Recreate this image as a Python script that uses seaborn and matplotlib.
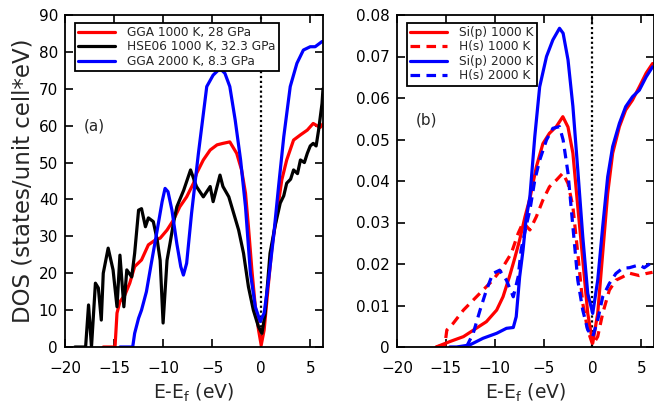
import matplotlib
matplotlib.use("Agg")
import matplotlib.pyplot as plt
import numpy as np
import pandas as pd
import seaborn as sns

# ---- panel (a): total DOS ----
gga1000_x = [-16.1, -14.9, -14.7, -14.4, -13.9, -13.4, -12.9, -12.2, -11.5, -10.8, -10.3,
             -9.6, -8.95, -8.3, -7.6, -6.9, -6.6, -5.9, -5.2, -4.5, -3.9, -3.2, -2.5,
             -2.0, -1.6, -1.3, -0.95, -0.6, -0.27, 0.0, 0.3, 0.65, 1.1, 1.6, 2.1, 2.6,
             3.3, 4.0, 4.7, 5.3, 6.0, 6.3]
gga1000_y = [0, 0, 9.2, 12.3, 14.1, 17.3, 21.8, 23.6, 27.7, 29.0, 29.5,
             31.7, 34.4, 38.0, 40.7, 44.4, 47.0, 50.7, 53.4, 54.8, 55.2, 55.6, 52.5,
             48.0, 41.7, 32.6, 20.9, 10.9, 4.6, 0.5, 4.6, 14.6, 27.2, 36.2, 45.3, 50.7,
             56.1, 57.5, 58.8, 60.6, 59.5, 60.5]

hse1000_x = [-19.0, -17.9, -17.6, -17.3, -16.9, -16.6, -16.3, -16.1, -15.6, -15.1, -14.7,
             -14.4, -14.0, -13.7, -13.2, -12.9, -12.5, -12.2, -11.8, -11.5, -11.0, -10.6,
             -10.3, -10.0, -9.6, -9.3, -8.95, -8.6, -7.9, -7.2, -6.6, -5.9, -5.2, -4.9,
             -4.2, -3.9, -3.3, -2.8, -2.3, -1.8, -1.3, -0.8, -0.28, 0.07, 0.4, 0.9, 1.4,
             1.94, 2.3, 2.6, 3.0, 3.3, 3.7, 4.0, 4.4, 4.7, 5.0, 5.3, 5.6, 5.85, 6.2, 6.3]
hse1000_y = [0, 0, 11.4, 0, 17.3, 16.0, 7.3, 20.0, 26.8, 20.9, 10.9,
             24.9, 10.9, 20.9, 19.0, 25.4, 37.1, 37.5, 32.6, 35.0, 34.0, 29.0,
             23.5, 6.5, 23.5, 28.0, 33.5, 38.0, 42.5, 48.0, 43.5, 40.7, 43.5, 39.4,
             46.6, 43.5, 40.7, 36.2, 31.7, 25.4, 16.3, 10.0, 5.5, 3.7, 9.0, 25.4, 32.6,
             39.0, 41.0, 44.4, 45.5, 48.0, 47.0, 50.7, 50.0, 52.5, 54.5, 55.2, 54.5, 58.8, 66.0, 70.0]

gga2000_x = [-14.4, -13.1, -12.9, -12.5, -12.2, -11.7, -11.2, -10.6, -10.1, -9.8, -9.5,
             -9.1, -8.6, -8.2, -7.93, -7.6, -7.1, -6.4, -5.55, -4.9, -4.2, -3.7, -3.2,
             -2.65, -2.1, -1.6, -1.1, -0.6, -0.1, 0.3, 0.75, 1.26, 1.77, 2.3, 2.96, 3.64,
             4.3, 5.0, 5.5, 6.2]
gga2000_y = [0, 0, 3.7, 7.8, 10.0, 15.0, 22.7, 31.7, 39.4, 43.0, 42.1,
             37.1, 28.0, 21.8, 19.5, 22.7, 36.2, 52.5, 70.6, 73.7, 75.5, 74.2, 70.6,
             61.5, 50.7, 38.0, 20.0, 10.9, 6.9, 9.2, 18.2, 29.9, 43.5, 57.0, 70.6, 76.9,
             80.5, 81.4, 81.4, 82.8]

# ---- panel (b): projected DOS ----
sip1000_x = [-16.0, -14.6, -13.2, -11.9, -10.85, -9.8, -9.15, -8.5, -8.0, -7.45, -6.9, -6.4,
             -5.74, -5.07, -4.4, -3.7, -3.03, -2.5, -2.0, -1.5, -0.99, -0.48, 0.03, 0.54,
             1.05, 1.56, 2.07, 2.76, 3.4, 4.1, 4.8, 5.5, 6.15]
sip1000_y = [0, 0.0013, 0.0025, 0.0045, 0.0061, 0.0089, 0.0121, 0.0169, 0.021, 0.0258, 0.0314, 0.0358,
             0.0434, 0.049, 0.0515, 0.0531, 0.0555, 0.053, 0.0467, 0.0338, 0.021, 0.0081, 0.0009, 0.0081,
             0.0226, 0.037, 0.0467, 0.0531, 0.0571, 0.0595, 0.0627, 0.066, 0.0683]

hs1000_x = [-16.0, -15.1, -14.9, -14.25, -13.2, -12.2, -11.2, -10.2, -9.15, -8.3, -7.6, -7.1,
            -6.4, -5.74, -5.07, -4.4, -3.7, -3.03, -2.5, -2.0, -1.5, -0.99, -0.48, 0.03,
            0.54, 1.05, 1.73, 2.4, 3.1, 3.77, 4.8, 5.5, 6.15]
hs1000_y = [0, 0.0005, 0.0041, 0.0057, 0.0089, 0.0113, 0.0137, 0.0161, 0.0193, 0.0226, 0.0274, 0.0300,
            0.0282, 0.0314, 0.0354, 0.0386, 0.0402, 0.0419, 0.0394, 0.0338, 0.0226, 0.0105, 0.0041, 0.0005,
            0.0025, 0.0081, 0.0137, 0.0161, 0.0169, 0.0178, 0.0172, 0.0177, 0.018]

sip2000_x = [-14.6, -13.9, -12.55, -11.2, -9.8, -8.8, -8.1, -7.8, -7.45, -7.1, -6.8, -6.4,
             -5.9, -5.4, -4.7, -4.05, -3.37, -3.0, -2.5, -2.0, -1.5, -0.99, -0.48, 0.03,
             0.54, 1.05, 1.56, 2.07, 2.76, 3.4, 4.1, 4.8, 5.5, 6.15]
sip2000_y = [0, 0, 0.0005, 0.0021, 0.0033, 0.0045, 0.0047, 0.0073, 0.0169, 0.0234, 0.0306, 0.0362,
             0.0507, 0.0627, 0.070, 0.074, 0.0768, 0.0756, 0.0692, 0.058, 0.0427, 0.0266, 0.0129, 0.0081,
             0.0161, 0.029, 0.041, 0.0483, 0.0539, 0.0579, 0.0603, 0.0619, 0.0651, 0.0675]

hs2000_x = [-12.9, -12.2, -11.5, -10.85, -10.2, -9.5, -8.8, -8.1, -7.6, -7.3, -6.8, -6.4,
            -5.9, -5.4, -4.7, -4.05, -3.37, -3.0, -2.5, -2.0, -1.5, -0.99, -0.48, 0.03,
            0.54, 1.05, 1.73, 2.4, 3.1, 3.77, 4.8, 5.3, 6.15]
hs2000_y = [0, 0.0033, 0.0089, 0.0137, 0.0177, 0.0185, 0.0161, 0.0121, 0.0169, 0.0234, 0.029, 0.033,
            0.0402, 0.045, 0.0499, 0.0527, 0.0531, 0.0499, 0.0419, 0.029, 0.0161, 0.0089, 0.0041, 0.0025,
            0.0065, 0.0121, 0.0153, 0.0177, 0.019, 0.0191, 0.0198, 0.0191, 0.0205]

sns.set_style("ticks")
plt.rcParams["font.family"] = ["DejaVu Sans"]
plt.rcParams.update({
    "xtick.direction": "in", "ytick.direction": "in",
    "xtick.top": True, "ytick.right": True,
    "xtick.major.size": 6, "ytick.major.size": 6,
    "xtick.major.width": 1.2, "ytick.major.width": 1.2,
    "xtick.major.pad": 10, "ytick.major.pad": 5,
    "axes.linewidth": 1.3, "axes.edgecolor": "black",
    "xtick.color": "black", "ytick.color": "black",
    "xtick.labelsize": 11, "ytick.labelsize": 11,
})

fig = plt.figure(figsize=(6.54, 4.04), dpi=100)
ax1 = fig.add_axes([65 / 654, 57 / 404, 258 / 654, 332 / 404])
ax2 = fig.add_axes([397 / 654, 57 / 404, 257 / 654, 332 / 404])

lw = 2.3
dash = (0, (3, 2))
sns.lineplot(x=gga1000_x, y=gga1000_y, ax=ax1, color="#ff0000", lw=lw,
             label="GGA 1000 K, 28 GPa", estimator=None, sort=False)
sns.lineplot(x=hse1000_x, y=hse1000_y, ax=ax1, color="black", lw=lw,
             label="HSE06 1000 K, 32.3 GPa", estimator=None, sort=False)
sns.lineplot(x=gga2000_x, y=gga2000_y, ax=ax1, color="#0000ff", lw=lw,
             label="GGA 2000 K, 8.3 GPa", estimator=None, sort=False)

sns.lineplot(x=sip1000_x, y=sip1000_y, ax=ax2, color="#ff0000", lw=lw,
             label="Si(p) 1000 K", estimator=None, sort=False)
sns.lineplot(x=hs1000_x, y=hs1000_y, ax=ax2, color="#ff0000", lw=lw, ls=dash,
             label="H(s) 1000 K", estimator=None, sort=False)
sns.lineplot(x=sip2000_x, y=sip2000_y, ax=ax2, color="#0000ff", lw=lw,
             label="Si(p) 2000 K", estimator=None, sort=False)
sns.lineplot(x=hs2000_x, y=hs2000_y, ax=ax2, color="#0000ff", lw=lw, ls=dash,
             label="H(s) 2000 K", estimator=None, sort=False)

for ax, ymax, ystep, lab, ly in [(ax1, 90, 10, "(a)", 60), (ax2, 0.08, 0.01, "(b)", 0.0547)]:
    ax.axvline(0, color="black", ls=(0, (1, 1.2)), lw=1.6, zorder=1)
    ax.set_xlim(-20, 6.3)
    ax.set_ylim(0, ymax)
    ax.set_xticks(np.arange(-20, 6, 5))
    ax.set_yticks(np.arange(0, ymax + ystep / 2, ystep))
    ax.set_xlabel(r"E-E$_\mathregular{f}$ (eV)", fontsize=13.5, labelpad=4)
    ax.text(-18.1, ly, lab, fontsize=11, ha="left", va="center")
    leg = ax.legend(loc="upper left", bbox_to_anchor=(0.039, 0.977), borderaxespad=0,
                    fontsize=8.7, frameon=True, fancybox=False, framealpha=1,
                    edgecolor="black", handlelength=3, handletextpad=1.0,
                    labelspacing=0.12, borderpad=0.28)
    leg.get_frame().set_linewidth(1.3)
    for h in leg.get_lines():
        h.set_linewidth(2.3)

ax2.set_yticks(np.arange(0, 0.085, 0.01))
ax2.set_yticklabels(["0"] + [f"{v:.2f}" for v in np.arange(0.01, 0.085, 0.01)])
ax1.set_ylabel("DOS (states/unit cell*eV)", fontsize=16.5, labelpad=3)

fig.savefig("out.png", dpi=100)
